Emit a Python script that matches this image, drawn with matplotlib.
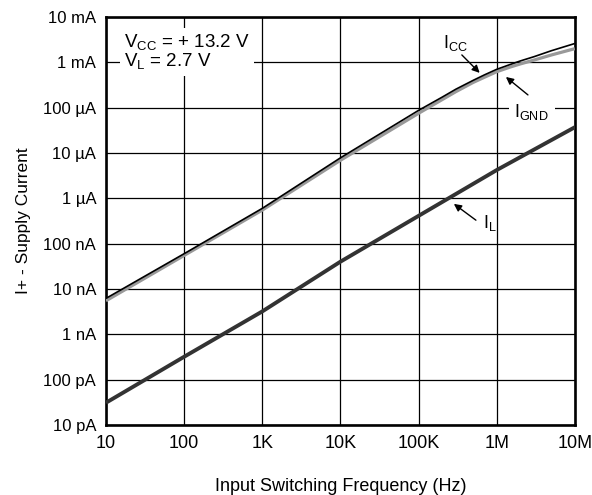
import numpy as np
import matplotlib
matplotlib.use("Agg")
import matplotlib.pyplot as plt
from matplotlib.ticker import FixedLocator, NullLocator

plt.rcParams['font.family'] = ['Liberation Sans', 'DejaVu Sans']
plt.rcParams['mathtext.fontset'] = 'custom'
plt.rcParams['mathtext.rm'] = 'Liberation Sans'

# ---- data (Hz, A) ----
freq_icc = [10, 100, 1e3, 1e4, 1e5, 2e5, 3e5, 5e5, 7e5, 1e6, 1.5e6, 2e6, 3e6, 5e6, 1e7]
icc = [6.2e-9, 6.0e-8, 6.0e-7, 7.8e-6, 8.7e-5, 1.7e-4, 2.55e-4, 4.0e-4, 5.3e-4,
       7.0e-4, 9.0e-4, 1.07e-3, 1.33e-3, 1.8e-3, 2.6e-3]

freq_ignd = [10, 100, 1e3, 1e4, 1e5, 2e5, 3e5, 5e5, 7e5, 1e6, 1.5e6, 2e6, 3e6, 5e6, 1e7]
ignd = [5.5e-9, 5.5e-8, 5.5e-7, 6.9e-6, 7.5e-5, 1.5e-4, 2.25e-4, 3.6e-4, 4.7e-4,
        6.2e-4, 7.9e-4, 9.2e-4, 1.12e-3, 1.45e-3, 2.0e-3]

freq_il = [10, 100, 1e3, 1e4, 1e5, 1e6, 1e7]
il = [3.1e-11, 3.2e-10, 3.2e-9, 4.0e-8, 4.1e-7, 4.2e-6, 3.7e-5]

x_ticks = [10, 100, 1e3, 1e4, 1e5, 1e6, 1e7]
x_labels = ['10', '100', '1K', '10K', '100K', '1M', '10M']
y_ticks = [1e-11, 1e-10, 1e-9, 1e-8, 1e-7, 1e-6, 1e-5, 1e-4, 1e-3, 1e-2]
y_labels = ['10 pA', '100 pA', '1 nA', '10 nA', '100 nA', '1 µA',
            '10 µA', '100 µA', '1 mA', '10 mA']

fig = plt.figure(figsize=(5.92, 4.95), dpi=100)
ax = fig.add_axes([0.179, 0.1414, 0.792, 0.8243])

ax.plot(freq_ignd, ignd, color='#999999', lw=2.3, zorder=3, solid_capstyle='butt')
ax.plot(freq_icc, icc, color='black', lw=1.2, zorder=4, solid_capstyle='butt')
ax.plot(freq_il, il, color='#333333', lw=2.8, zorder=3, solid_capstyle='butt')

ax.set_xscale('log')
ax.set_yscale('log')
ax.set_xlim(10, 1e7)
ax.set_ylim(1e-11, 1e-2)
ax.xaxis.set_major_locator(FixedLocator(x_ticks))
ax.yaxis.set_major_locator(FixedLocator(y_ticks))
ax.xaxis.set_minor_locator(NullLocator())
ax.yaxis.set_minor_locator(NullLocator())
ax.set_xticklabels(x_labels, fontsize=13)
ax.set_yticklabels(y_labels, fontsize=12)
ax.tick_params(axis='y', length=0, pad=7)
ax.tick_params(axis='x', length=0, pad=7)
ax.grid(True, color='black', lw=0.9, zorder=1)
ax.set_axisbelow(True)
for s in ax.spines.values():
    s.set_linewidth(1.9)

ax.set_xlabel('Input Switching Frequency (Hz)', fontsize=13, labelpad=19)
ax.set_ylabel('I+ - Supply Current', fontsize=12.5, labelpad=9)

# conditions box
ax.text(0.038, 0.962,
        'V$_{\\mathregular{CC}}$ = + 13.2 V\nV$_{\\mathregular{L}}$ = 2.7 V',
        transform=ax.transAxes, ha='left', va='top', fontsize=13.5,
        linespacing=0.9, zorder=5,
        bbox=dict(fc='white', ec='none', pad=3))

arrow = dict(arrowstyle='-|>', color='black', lw=1.0, mutation_scale=11,
             shrinkA=0, shrinkB=0)
ax.text(0.746, 0.936, 'I$_{\\mathregular{CC}}$', transform=ax.transAxes,
        ha='center', va='center', fontsize=13, zorder=5)
ax.annotate('', xy=(0.797, 0.863), xytext=(0.759, 0.907),
            xycoords='axes fraction', arrowprops=arrow, zorder=5)

ax.text(0.908, 0.767, 'I$_{\\mathregular{GND}}$', transform=ax.transAxes,
        ha='center', va='center', fontsize=13, zorder=5,
        bbox=dict(fc='white', ec='none', pad=4))
ax.annotate('', xy=(0.853, 0.853), xytext=(0.900, 0.809),
            xycoords='axes fraction', arrowprops=arrow, zorder=5)

ax.text(0.819, 0.495, 'I$_{\\mathregular{L}}$', transform=ax.transAxes,
        ha='center', va='center', fontsize=13, zorder=5)
ax.annotate('', xy=(0.742, 0.542), xytext=(0.789, 0.502),
            xycoords='axes fraction', arrowprops=arrow, zorder=5)

fig.savefig('out.png', dpi=100, facecolor='white')
